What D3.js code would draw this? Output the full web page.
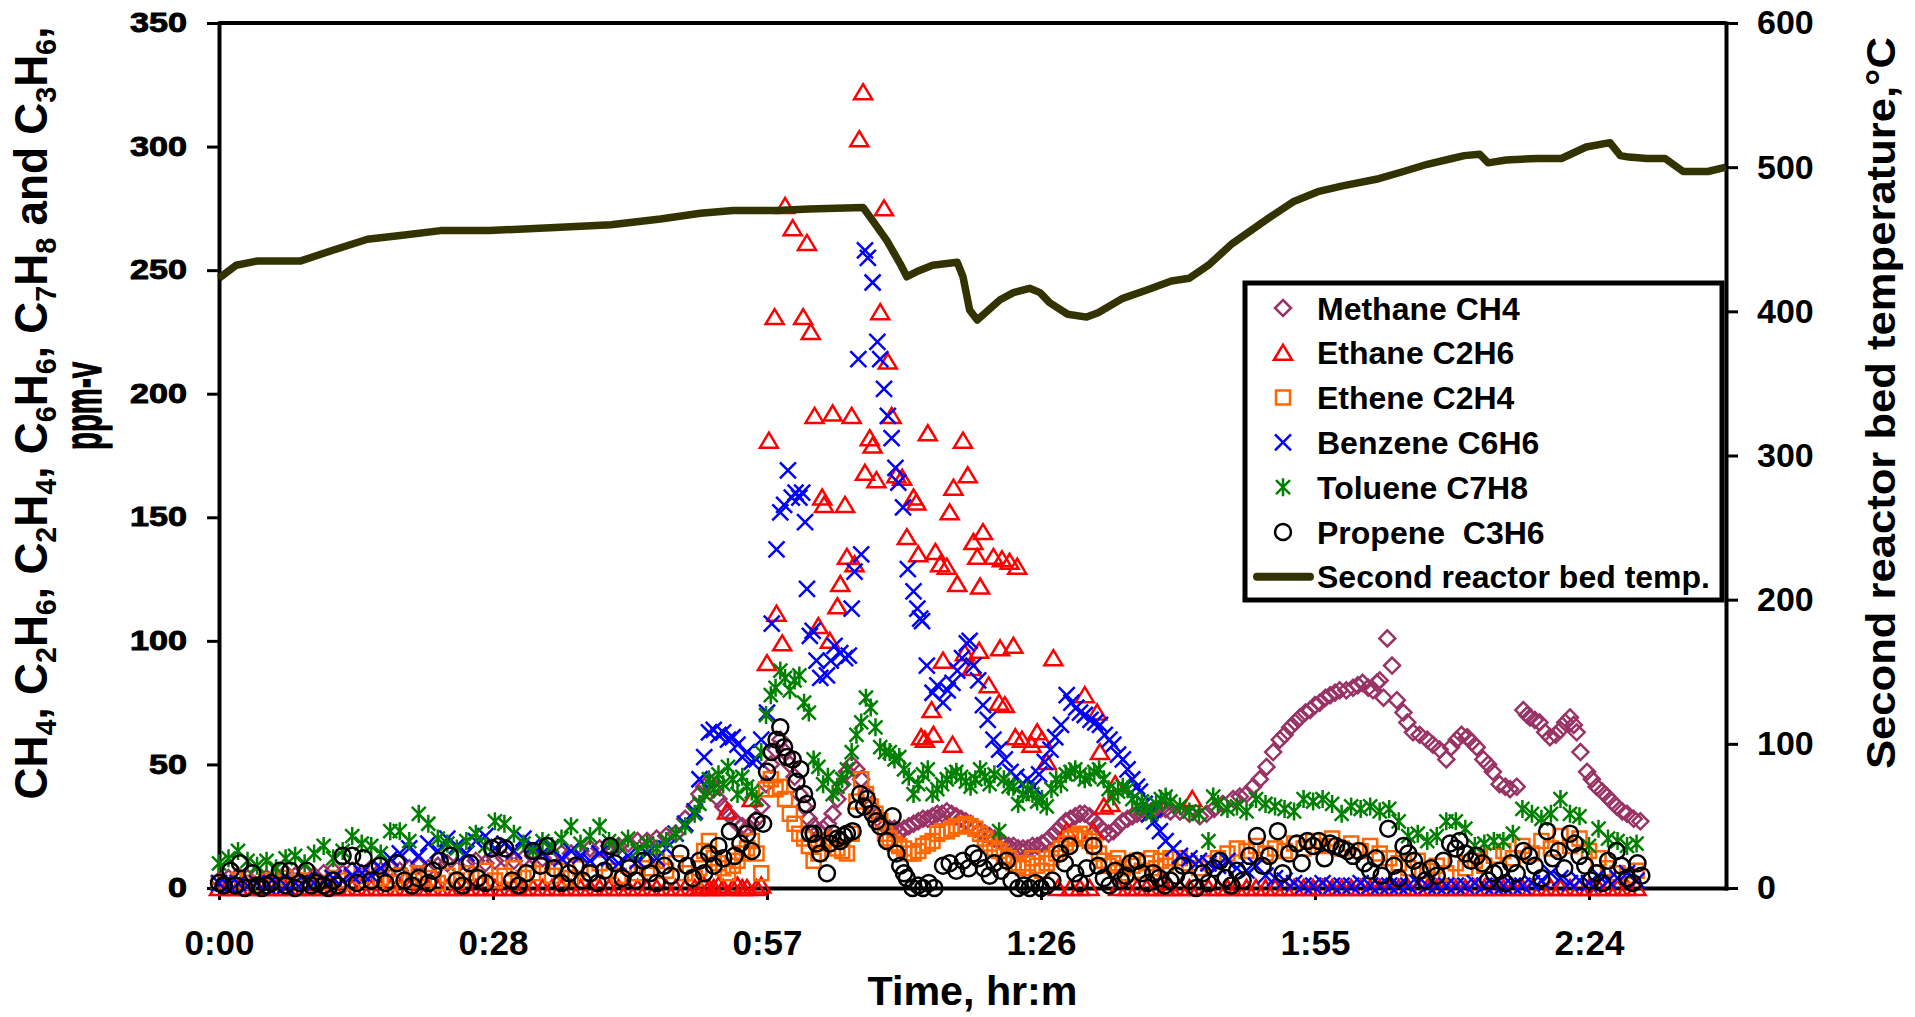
<!DOCTYPE html>
<html>
<head>
<meta charset="UTF-8">
<style>
body{
	margin: 0;
	background: #fff;
	font-family: "Liberation Sans", Arial, Helvetica, sans-serif;
}
svg{
	display: block;
}
.axis path, .axis line{
	stroke: #000;
}
.axis path{
	stroke-width: 4;
	stroke-linecap: square;
}
.axis line{
	stroke-width: 3;
}
.axis text{
	font-weight: bold;
	fill: #000;
}
.title{
	font-weight: bold;
	fill: #000;
}
.legend-text{
	font-size: 32px;
	font-weight: bold;
	white-space: pre;
}
</style>
<script src="https://cdn.jsdelivr.net/npm/d3@7"></script>
</head>
<body>
<script>
// time axis in minutes (Excel day fractions 0.02 = 28.8 min)
var timeTicks = [0, 28.8, 57.6, 86.4, 115.2, 144];
var timeTickLabels = ["0:00", "0:28", "0:57", "1:26", "1:55", "2:24"];
var ppmTicks = [0, 50, 100, 150, 200, 250, 300, 350];
var tempTicks = [0, 100, 200, 300, 400, 500, 600];

// [minute, ppm-v]
var methane = [
	[0,3],[1,4],[2,5],[3,4],[4,5],[5,4],[6,5],[7,6],[8,5],[9,6],
	[10,5],[11,6],[12,7],[13,6],[14,7],[15,6],[16,8],[17,7],[18,8],[19,7],
	[20,8],[21,9],[22,8],[23,9],[24,10],[25,9],[26,10],[27,11],[28,10],[29,11],
	[30,12],[31,11],[32,12],[33,13],[34,12],[35,13],[36,14],[37,14],[38,15],[39,16],
	[40,16],[41,17],[42,17],[43,18],[44,19],[45,19],[46,20],[47,21],[48,22],[49,28],
	[50,33],[50.5,38],[51,41],[51.5,43],[52,40],[52.5,36],[53,33],[53.5,30],[54,28],[54.5,26],
	[55,25],[55.5,24],[56,26],[56.5,28],[57,33],[57.5,42],[58,50],[58.5,56],[59,60],[59.5,55],
	[60,50],[60.5,45],[61,38],[61.5,33],[62,28],[62.5,25],[63,23],[63.5,24],[64,26],[64.5,30],
	[65,36],[65.5,42],[66,47],[66.5,50],[67,48],[67.5,44],[68,38],[68.5,33],[69,30],[69.5,27],
	[70,25],[70.5,24],[71,24],[71.5,23],[72,24],[72.5,25],[73,26],[73.5,27],[74,28],[74.5,28],
	[75,29],[75.5,30],[76,30],[76.5,31],[77,30],[77.5,29],[78,28],[78.5,27],[79,26],[79.5,24],
	[80,23],[80.5,22],[81,21],[81.5,20],[82,19],[82.5,18],[83,17],[83.5,17],[84,16],[84.5,16],
	[85,16],[85.5,17],[86,17],[86.5,18],[87,19],[87.5,21],[88,23],[88.5,25],[89,27],[89.5,28],
	[90,29],[90.5,30],[91,30],[91.5,29],[92,27],[92.5,25],[93,23],[93.5,22],[94,23],[94.5,25],
	[95,27],[95.5,28],[96,29],[96.5,30],[97,30],[97.5,31],[98,31],[98.5,32],[99,32],[99.5,32],
	[100,31],[101,31],[102,30],[103.1,29],[103.8,30],[104.6,32],[105.5,34],[106.6,36],[107.3,37],[108,38],
	[108.7,41],[109.4,44],[110.1,49],[110.8,55],[111.5,60],[112,62],[112.6,65],[113.1,67],[113.6,69],[114.2,71],
	[114.7,72],[115.2,74],[115.7,75],[116.3,77],[116.8,78],[117.3,79],[117.8,80],[118.5,80],[119.2,81],[119.7,82],
	[120.2,83],[120.8,81],[121.3,80],[121.7,83],[122,84],[122.4,77],[122.8,101],[123.3,90],[123.8,76],[124.5,71],
	[124.9,67],[125.5,63],[126.2,62],[127,60],[127.6,58],[128.3,56],[129,52],[129.5,57],[130.1,60],[130.6,62],
	[131.2,61],[131.7,59],[132.2,57],[132.9,52],[133.4,50],[133.9,47],[134.6,42],[135.2,41],[135.7,40],[136.4,41],
	[137.1,72],[137.5,70],[137.8,69],[138.3,68],[138.8,67],[139.4,63],[139.9,61],[140.5,62],[141,64],[141.5,67],
	[142,69],[142.4,66],[142.7,63],[143.1,55],[143.8,47],[144.3,44],[144.8,41],[145.4,39],[145.9,37],[146.4,35],
	[146.9,33],[147.5,31],[148,30],[148.7,28],[149.4,27]
];

var ethane = [
	[0,0],[1,0],[2,0],[3,0],[4,0],[5,0],[6,0],[7,0],[8,0],[9,0],
	[10,0],[11,0],[12,0],[13,0],[14,0],[15,0],[16,0],[17,0],[18,0],[19,0],
	[20,0],[21,0],[22,0],[23,0],[24,0],[25,0],[26,0],[27,0],[28,0],[29,0],
	[30,0],[31,0],[32,0],[33,0],[34,0],[35,0],[36,0],[37,0],[38,0],[39,0],
	[40,0],[41,0],[42,0],[43,0],[44,0],[45,0],[46,0],[47,0],[48,0],[49,0],
	[50,0],[50.5,0],[51,1],[51.5,0],[52,0],[52.5,1],[53,0],[53.4,31],[54,0],[54.5,1],
	[55,0],[55.5,0],[56,36],[56.5,0],[57,1],
	[57.6,91],[57.8,181],[58.4,231],[58.6,111],[59.2,99],[59.5,276],[60.3,267],[61.4,231],[61.8,261],[62.2,225],
	[62.6,191],[63,106],[63.4,158],[63.6,155],[64.2,100],[64.5,192],[65,114],[65.3,123],[65.8,155],[66,134],
	[66.5,191],[66.8,131],[67.3,303],[67.7,322],[67.9,168],[68.4,182],[68.7,179],[69.1,165],[69.5,233],[69.9,275],
	[70.3,213],[70.7,191],[71.2,167],[71.8,166],[72.3,142],[73,158],[73.3,156],[73.5,135],[73.8,61],[74.2,60],
	[74.5,184],[74.9,72],[75.1,62],[75.3,136],[75.8,131],[76.1,92],[76.5,130],[76.8,152],[77.1,58],[77.2,162],
	[77.6,123],[78.2,181],[78.4,95],[78.7,167],[79.1,89],[79.3,140],[79.7,134],[79.9,96],[80,122],[80.3,144],
	[80.9,82],[81.4,134],[82,75],[82.1,97],[82.3,133],[82.6,74],[83.1,132],[83.5,98],[83.7,61],[83.9,130],
	[84.4,60],[85.4,58],[86,63],[86.5,60],[87,51],[87.7,93],[88.2,0],[89.1,23],[89.5,0],[90.5,0],
	[91,78],[91.5,0],[91.9,23],[92.3,71],[92.6,55],[93,33],[93.7,34],[94.2,42],[94.5,0],[95.5,0],
	[96.5,0],[97.5,0],[98.5,0],[99.5,0],
	[100,0],[101,0],[102,0],[102.3,36],[103,0],[104,0],[105,0],[106,0],[107,0],[108,0],[109,0],
	[110,0],[111,0],[112,0],[113,0],[114,0],[115,0],[116,0],[117,0],[118,0],[119,0],
	[120,0],[121,0],[122,0],[123,0],[124,0],[125,0],[126,0],[127,0],[128,0],[129,0],
	[130,0],[131,0],[132,0],[133,0],[134,0],[135,0],[136,0],[137,0],[138,0],[139,0],
	[140,0],[141,0],[142,0],[143,0],[144,0],[145,0],[146,0],[147,0],[148,0],[149,0]
];

var ethene = [
	[0,2],[1,1],[2,3],[3,2],[4,1],[5,3],[6,2],[7,4],[8,2],[9,3],
	[10,1],[11,2],[12,4],[13,3],[14,2],[15,5],[16,3],[17,4],[18,2],[19,5],
	[20,3],[21,6],[22,4],[23,2],[24,5],[25,3],[26,6],[27,4],[28,7],[29,3],
	[30,5],[31,8],[32,4],[33,6],[34,9],[35,5],[36,7],[37,4],[38,8],[39,6],
	[40,10],[41,7],[42,5],[43,9],[44,6],[45,8],[46,11],[47,7],[48,10],[49,6],
	[50,4],[50.5,8],[51,15],[51.5,19],[52,12],[52.5,10],[53,8],[53.5,6],[54,9],[54.5,11],
	[55,14],[55.5,16],[56,19],[56.5,14],[57,6],[57.5,40],[58,44],[58.5,40],[59,41],[59.5,36],
	[60,30],[60.5,26],[61,22],[61.5,20],[62,17],[62.5,11],[63,14],[63.5,19],[64,18],[64.5,20],
	[65,16],[65.5,15],[66,14],[66.5,22],[67,35],[67.5,44],[68,38],[68.5,33],[69,30],[69.5,27],
	[70,22],[70.5,20],[71,18],[71.5,17],[72,16],[72.5,14],[73,14],[73.5,15],[74,17],[74.5,18],
	[75,19],[75.5,22],[76,23],[76.5,23],[77,24],[77.5,25],[78,25],[78.5,26],[79,25],[79.5,24],
	[80,22],[80.5,20],[81,18],[81.5,16],[82,15],[82.5,13],[83,12],[83.5,10],[84,9],[84.5,8],
	[85,10],[85.5,12],[86,9],[86.5,7],[87,10],[87.5,12],[88,14],[88.5,16],[89,18],[89.5,20],
	[90,21],[90.5,22],[91,20],[91.5,19],[92,17],[92.5,14],[93,11],[93.5,9],[94,10],[94.5,12],
	[95,8],[95.5,6],[96,9],[96.5,11],[97,7],[97.5,10],[98,12],[98.5,8],[99,11],[99.5,9],
	[100,12],[101,12],[102,10],[103,8],[104,10],[105,12],[106,14],[107,16],[108,15],[109,17],
	[110,14],[111,16],[112,15],[113,18],[114,16],[115,19],[116,17],[117,20],[118,16],[119,18],
	[120,15],[121,17],[122,14],[123,12],[124,10],[125,8],[126,11],[127,7],[128,9],[129,6],
	[130,10],[131,8],[132,11],[133,9],[134,13],[135,15],[136,12],[137,17],[138,14],[139,19],
	[140,16],[141,21],[142,17],[143,20],[144,15],[145,12],[146,8],[147,6],[148,5],[149,7]
];

var benzene = [
	[0,2],[1,1],[2,2],[3,1],[4,2],[5,1],[6,2],[7,1],[8,2],[9,3],
	[10,2],[11,3],[12,4],[13,3],[14,5],[15,6],[16,5],[17,8],[18,12],[19,14],
	[20,16],[21,13],[22,18],[23,15],[24,20],[25,17],[26,14],[27,19],[28,21],[29,16],
	[30,18],[31,15],[32,20],[33,17],[34,14],[35,16],[36,12],[37,15],[38,13],[39,11],
	[40,14],[41,12],[42,10],[43,13],[44,11],[45,14],[46,12],[47,16],[48,22],[49,26],
	[50,31],[50.5,44],[51,53],[51.5,63],[52,64],[52.5,62],[53,63],[53.5,60],[54,61],[54.5,58],
	[55,53],[55.5,55],[56,51],[56.5,52],[57,60],[57.6,71],[58.1,107],[58.6,137],[59,152],[59.4,155],
	[59.8,169],[60.2,158],[60.6,160],[61,158],[61.3,160],[61.6,148],[61.8,121],[62.1,102],[62.4,104],[62.8,92],
	[63.2,85],[63.9,86],[64.3,92],[64.7,98],[65.3,95],[65.8,93],[66.2,94],[66.5,113],[66.8,128],[67.2,214],
	[67.5,135],[67.9,258],[68.2,255],[68.7,245],[69.2,221],[69.5,214],[69.9,202],[70.3,191],[70.7,182],[71.1,170],
	[71.4,164],[71.9,154],[72.4,129],[73,120],[73.4,113],[73.7,109],[73.9,108],[74.4,90],[75,79],[75.5,82],
	[76.1,75],[76.6,80],[77.1,83],[77.6,88],[78.1,93],[78.6,99],[78.9,100],[79.3,90],[79.8,84],[80.3,74],
	[80.8,68],[81.4,60],[82,56],[82.6,52],[83.2,47],[83.8,45],[84.4,42],[85,44],[85.6,41],[86.2,46],
	[86.8,51],[87.4,56],[87.9,61],[88.5,66],[89.1,78],[89.6,75],[90.1,73],[90.5,71],[91,70],[91.6,68],
	[92.1,67],[92.6,66],[93.1,62],[93.6,60],[94,58],[94.5,54],[95,52],[95.5,48],[96,44],[96.5,41],
	[96.8,39],[97.3,34],[97.8,30],[98.3,27],[98.9,23],[99.5,19],[100.3,16],
	[101,13],[102,12],[103,11],[104,10],[105,9],[106,11],[107,8],[108,7],[109,9],
	[110,5],[111,4],[112,3],[113,2],[114,1],[115,1],[116,2],[117,1],[118,1],[119,1],
	[120,2],[121,1],[122,1],[123,1],[124,1],[125,1],[126,2],[127,1],[128,1],[129,1],
	[130,1],[131,1],[132,2],[133,1],[134,1],[135,1],[136,1],[137,1],[138,2],[139,3],
	[140,6],[141,4],[142,2],[143,3],[144,2],[145,5],[146,3],[147,4],[148,6],[149,3]
];

var toluene = [
	[0,10],[1,12],[2,15],[3,11],[4,9],[5,11],[6,8],[7,12],[8,13],[9,10],
	[10,14],[11,17],[12,12],[13,15],[14,21],[15,18],[16,17],[17,14],[18,23],[19,23],
	[20,19],[21,30],[22,26],[23,20],[24,18],[25,16],[26,19],[27,22],[28,17],[29,27],
	[30,26],[31,22],[32,18],[33,15],[34,19],[35,17],[36,20],[37,25],[38,18],[39,21],
	[40,25],[41,19],[42,17],[43,20],[44,15],[45,18],[46,16],[47,19],[48,22],[49,25],
	[50,30],[50.5,34],[51,38],[51.5,44],[52,40],[52.5,46],[53,42],[53.5,49],[54,44],[54.5,38],
	[55,45],[55.5,41],[56,39],[56.5,36],[57,55],[57.5,70],[58,78],[58.5,81],[59,88],[59.5,85],
	[60,80],[60.5,84],[61,86],[61.5,75],[62,71],[62.5,52],[63,49],[63.5,42],[64,45],[64.5,38],
	[65,41],[65.5,44],[66,48],[66.5,55],[67,62],[67.5,67],[68,77],[68.5,73],[69,65],[69.5,57],
	[70,55],[70.5,55],[71,52],[71.5,53],[72,48],[72.5,45],[73,38],[73.5,42],[74,46],[74.5,48],
	[75,38],[75.5,40],[76,42],[76.5,44],[77,46],[77.5,47],[78,45],[78.5,43],[79,41],[79.5,44],
	[80,48],[80.5,45],[81,42],[81.5,46],[82,23],[82.5,44],[83,41],[83.5,41],[84,34],[84.5,38],
	[85,40],[85.5,38],[86,35],[86.5,36],[87,33],[87.5,40],[88,44],[88.5,42],[89,46],[89.5,47],
	[90,48],[90.5,46],[91,44],[91.5,45],[92,47],[92.5,48],[93,44],[93.5,40],[94,37],[94.5,39],
	[95,41],[95.5,40],[96,36],[96.5,33],[97,35],[97.5,32],[98,30],[98.5,34],[99,36],[99.5,37],
	[100,35],[101,33],[102,31],[103,30],[104,19],[104.5,37],[105,34],[106,32],[107,33],[108,31],[109,36],
	[110,34],[111,33],[112,32],[113,31],[114,36],[115,35],[116,36],[117,34],[118,30],[119,33],
	[120,32],[121,33],[122,31],[123,32],[124,27],[125,21],[126,22],[127,19],[128,21],[129,27],
	[130,27],[131,24],[132,17],[133,18],[134,19],[135,19],[136,22],[137,32],[138,30],[139,28],
	[140,30],[141,36],[142,30],[143,29],[144,17],[145,24],[146,20],[147,19],[148,17],[149,18]
];

var propene = [
	[0,2],[0.5,1],[1.2,7],[1.7,1],[2.2,10],[2.7,0],[3.5,6],[4,1],[4.5,0],[5,1],
	[5.5,2],[6.4,7],[7,1],[7.5,7],[8,0],[8.5,2],[9.2,7],[9.7,1],[10.3,2],[11,1],
	[11.5,0],[12,3],[12.5,1],[13,13],[14,13],[14.5,2],[15.2,12],[16,3],[16.9,9],[17.5,2],
	[18.7,10],[19.5,3],[20.3,1],[21,4],[22,2],[22.5,7],[23.2,11],[24.3,13],[25,3],[25.6,1],
	[26.4,10],[27.2,4],[28,2],[28.7,16],[29.4,17],[30.1,16],[30.8,3],[31.5,1],[32.3,6],[33,15],
	[33.8,9],[34.5,17],[35.2,8],[36,2],[36.8,6],[37.5,9],[38.2,3],[39,6],[39.8,2],[40.5,7],
	[41.1,17],[41.6,10],[42.4,4],[43.1,8],[43.8,3],[44.6,11],[45.3,6],[46,2],[46.8,9],[47.5,5],
	[48.5,14],[49.2,9],[49.8,4],
	[50.5,11],[51,6],[51.5,14],[52,9],[52.5,17],[53,12],[53.7,23],[54.2,13],[54.8,18],[55.5,22],
	[56,15],[56.5,27],[57.2,26],[57.6,47],[58.1,55],[58.6,60],[59,65],[59.4,57],[59.7,53],[60.3,52],
	[60.7,43],[61.1,48],[61.5,38],[61.8,34],[62.1,22],[62.5,22],[62.8,18],[63.2,14],[63.9,6],[64.2,18],
	[64.5,22],[65,20],[65.3,19],[65.7,21],[66,22],[66.6,23],[67,32],[67.4,38],[67.8,33],[68.1,36],
	[68.7,30],[69.1,27],[69.5,25],[70.2,19],[70.8,29],[71.2,14],[71.6,9],[72,6],[72.3,4],[72.9,0],
	[73.5,1],[74,0],[74.6,2],[75.2,0],[76.1,9],[76.8,10],[77.5,7],[78.2,11],[78.8,8],[79.3,14],
	[79.8,12],[80.4,8],[81,5],[81.5,10],[82.2,7],[82.8,11],[83.3,3],[84,0],[84.6,1],[85.2,0],
	[85.8,2],[86.4,0],[87,1],[87.6,3],[88.4,14],[88.9,10],[89.4,17],[90,6],[90.5,2],[91.2,8],
	[91.9,17],[92.4,9],[93,4],[93.6,1],[94.2,7],[94.8,3],[95.3,5],[95.8,10],[96.5,11],[97,6],
	[97.6,2],[98.2,6],[98.8,4],[99.4,1],[100,3],
	[100.6,5],[101.3,9],[102,3],[102.7,0],[103.4,6],[104,2],[104.6,8],[105.2,11],[105.8,4],[106.4,1],
	[107,7],[107.6,3],[108.3,13],[109.1,21],[109.7,9],[110.4,13],[111.3,23],[111.8,6],[112.5,14],[113.3,18],
	[113.8,10],[114.4,19],[115,17],[115.6,19],[116.2,12],[116.8,18],[117.4,17],[118,16],[118.6,15],[119.2,13],
	[119.8,15],[120.4,10],[121,7],[121.6,12],[122.2,5],[122.9,24],[123.5,9],[124,4],[124.5,17],[125,14],
	[125.6,11],[126.2,7],[126.8,3],[127.4,8],[128,5],[128.7,11],[129.4,18],[130,16],[130.4,19],[131,14],
	[131.6,11],[132.2,13],[132.8,10],[133.4,3],[134,6],[134.6,7],[135.2,2],[135.8,10],[136.4,6],[137.1,15],
	[137.7,13],[138.3,9],[139,4],[139.6,23],[140.2,12],[140.8,15],[141.4,8],[142,22],[142.5,18],[143,13],
	[143.6,9],[144.2,3],[144.8,6],[145.4,2],[146,11],[146.9,15],[147.4,9],[148,4],[148.6,2],[149.1,10],
	[149.5,5]
];

// [minute, deg C] on the secondary axis
var bedTemp = [
	[0,423],[1.8,432],[4.1,435],[8.6,435],[11.8,442],[15.6,450],[19.5,453],[23.3,456],[28.4,456],[34.8,458],
	[41.2,460],[46.4,464],[50.6,468],[54,470],[58.6,470],[62,471],[67.7,472],[68.7,463],[70.2,449],[71.6,433],
	[72.3,424],[73.5,428],[75,432],[77.6,434],[78.2,424],[78.9,401],[79.7,394],[82.1,408],[83.5,413],[85.2,416],
	[86.3,413],[87.3,406],[89.2,398],[91.2,396],[92.4,399],[95,409],[97.6,415],[100.1,421],[102,423],[104,432],
	[106.5,447],[110.4,465],[112.9,476],[115.5,483],[118.1,487],[121.9,492],[124.5,497],[127,502],[129.6,506],[130.9,508],
	[132.5,509],[133.4,503],[135.3,505],[138.5,506],[141.1,506],[143.7,514],[146.2,517],[147.3,508],[148.2,507],[150.1,506],
	[152,506],[153.9,497],[156.5,497],[158.4,500]
];

var seriesNames = ["Methane CH4", "Ethane C2H6", "Ethene C2H4", "Benzene C6H6", "Toluene C7H8", "Propene  C3H6"];
var tempName = "Second reactor bed temp.";

var W = 1915, H = 1017;
var margin = {top: 23, right: 189, bottom: 129, left: 219};

var x = d3.scaleLinear().domain([0, 158.4]).range([margin.left, W - margin.right]);
var yL = d3.scaleLinear().domain([0, 350]).range([H - margin.bottom, margin.top]);
var yR = d3.scaleLinear().domain([0, 600]).range([H - margin.bottom, margin.top]);

var svg = d3.select("body").append("svg")
	.attr("width", W)
	.attr("height", H);

svg.append("rect").attr("width", W).attr("height", H).attr("fill", "#fff");

// plot frame top
svg.append("line")
	.attr("x1", x.range()[0]).attr("x2", x.range()[1])
	.attr("y1", yL.range()[1]).attr("y2", yL.range()[1])
	.attr("stroke", "#000").attr("stroke-width", 4);

// axes
var gx = svg.append("g")
	.attr("class", "axis")
	.attr("transform", "translate(0," + yL.range()[0] + ")")
	.call(d3.axisBottom(x).tickValues(timeTicks)
		.tickFormat(function(d, i){ return timeTickLabels[i]; })
		.tickSize(12).tickSizeOuter(0).tickPadding(30));
gx.selectAll("text").style("font-size", "35px");

var gl = svg.append("g")
	.attr("class", "axis")
	.attr("transform", "translate(" + x.range()[0] + ",0)")
	.call(d3.axisLeft(yL).tickValues(ppmTicks).tickSize(12).tickSizeOuter(0).tickPadding(20));
gl.selectAll("text")
	.style("font-size", "27px")
	.style("stroke", "#000")
	.style("stroke-width", "0.9px")
	.attr("textLength", function(d){ return String(d).length * 19; })
	.attr("lengthAdjust", "spacingAndGlyphs");

var gr = svg.append("g")
	.attr("class", "axis")
	.attr("transform", "translate(" + x.range()[1] + ",0)")
	.call(d3.axisRight(yR).tickValues(tempTicks).tickSize(12).tickSizeOuter(0).tickPadding(19));
gr.selectAll("text").style("font-size", "34px");

// marker shapes
var shapes = {
	diamond: "M0,-8L8,0L0,8L-8,0Z",
	triangle: "M0,-8L9,7L-9,7Z",
	square: "M-7,-7H7V7H-7Z",
	cross: "M-8,-8L8,8M8,-8L-8,8",
	star: "M-7,-7L7,7M7,-7L-7,7M0,-9V9",
	circle: d3.symbol(d3.symbolCircle, 201)()
};

var series = [
	{name: seriesNames[0], data: methane, shape: "diamond", color: "#993366"},
	{name: seriesNames[1], data: ethane, shape: "triangle", color: "#FF0000"},
	{name: seriesNames[2], data: ethene, shape: "square", color: "#FF6600"},
	{name: seriesNames[3], data: benzene, shape: "cross", color: "#0000FF"},
	{name: seriesNames[4], data: toluene, shape: "star", color: "#008000"},
	{name: seriesNames[5], data: propene, shape: "circle", color: "#000000"}
];

series.forEach(function(s){
	svg.append("g")
		.selectAll("path")
		.data(s.data)
		.enter().append("path")
		.attr("d", shapes[s.shape])
		.attr("transform", function(d){ return "translate(" + x(d[0]) + "," + yL(d[1]) + ")"; })
		.attr("fill", "none")
		.attr("stroke", s.color)
		.attr("stroke-width", 2.5);
});

var tempLine = d3.line()
	.x(function(d){ return x(d[0]); })
	.y(function(d){ return yR(d[1]); });

svg.append("path")
	.datum(bedTemp)
	.attr("d", tempLine)
	.attr("fill", "none")
	.attr("stroke", "#333300")
	.attr("stroke-width", 7.5)
	.attr("stroke-linejoin", "round");

// axis titles
svg.append("text")
	.attr("class", "title")
	.attr("x", (x.range()[0] + x.range()[1]) / 2)
	.attr("y", 1005)
	.attr("text-anchor", "middle")
	.attr("textLength", 210)
	.attr("lengthAdjust", "spacingAndGlyphs")
	.style("font-size", "40px")
	.text("Time, hr:m");

svg.append("text")
	.attr("class", "title")
	.attr("transform", "translate(1895,403) rotate(-90)")
	.attr("text-anchor", "middle")
	.attr("textLength", 732)
	.attr("lengthAdjust", "spacingAndGlyphs")
	.style("font-size", "40px")
	.text("Second reactor bed temperature,°C");

var titleParts = [
	["CH", 0], ["4", 1], [", C", 0], ["2", 1], ["H", 0], ["6", 1], [", C", 0], ["2", 1], ["H", 0], ["4", 1],
	[", C", 0], ["6", 1], ["H", 0], ["6", 1], [", C", 0], ["7", 1], ["H", 0], ["8", 1], [" and C", 0], ["3", 1],
	["H", 0], ["6", 1], [",", 0]
];

var t1 = svg.append("g")
	.attr("transform", "translate(47,413) rotate(-90)")
	.append("text")
	.attr("class", "title")
	.attr("text-anchor", "middle")
	.style("font-size", "46px")
	.style("white-space", "pre");
var prevSub = 0;
titleParts.forEach(function(p){
	var shift = (p[1] - prevSub) * 9;
	t1.append("tspan")
		.attr("dy", shift)
		.style("font-size", p[1] ? "30px" : "46px")
		.text(p[0]);
	prevSub = p[1];
});
var len1 = t1.node().getComputedTextLength();
t1.attr("transform", "scale(" + (773 / len1) + ",1)");

var t2 = svg.append("g")
	.attr("transform", "translate(101,406) rotate(-90)")
	.append("text")
	.attr("class", "title")
	.attr("text-anchor", "middle")
	.style("font-size", "54px")
	.style("stroke", "#000")
	.style("stroke-width", "1.2px")
	.text("ppm-v");
var len2 = t2.node().getComputedTextLength();
t2.attr("transform", "scale(" + (88 / len2) + ",1)");

// legend
var legend = svg.append("g");
legend.append("rect")
	.attr("x", 1245).attr("y", 283)
	.attr("width", 477).attr("height", 317)
	.attr("fill", "#fff")
	.attr("stroke", "#000")
	.attr("stroke-width", 5);

var rowY = function(i){ return 308 + i * 44.8; };

series.forEach(function(s, i){
	legend.append("path")
		.attr("d", shapes[s.shape])
		.attr("transform", "translate(1283," + rowY(i) + ")")
		.attr("fill", "none")
		.attr("stroke", s.color)
		.attr("stroke-width", 2.5);
	legend.append("text")
		.attr("class", "legend-text")
		.attr("x", 1317)
		.attr("y", rowY(i))
		.attr("dy", "0.36em")
		.text(s.name);
});

legend.append("line")
	.attr("x1", 1257).attr("x2", 1310)
	.attr("y1", rowY(6)).attr("y2", rowY(6))
	.attr("stroke", "#333300")
	.attr("stroke-width", 8)
	.attr("stroke-linecap", "round");
legend.append("text")
	.attr("class", "legend-text")
	.attr("x", 1317)
	.attr("y", rowY(6))
	.attr("dy", "0.36em")
	.text(tempName);
</script>
</body>
</html>
